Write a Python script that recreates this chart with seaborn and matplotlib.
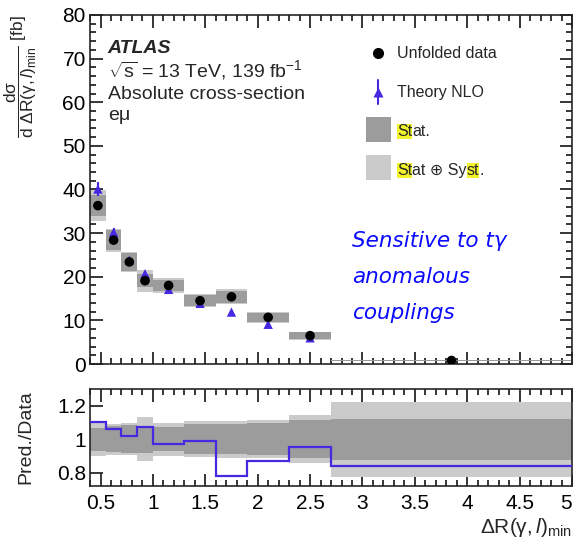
import numpy as np
import pandas as pd
import matplotlib
matplotlib.use("Agg")
import matplotlib.pyplot as plt
import seaborn as sns
from matplotlib.patches import Rectangle
from matplotlib.ticker import MultipleLocator

# ---------------- data ----------------
bin_edges = [0.4, 0.55, 0.7, 0.85, 1.0, 1.3, 1.6, 1.9, 2.3, 2.7, 5.0]
data_xsec = [36.3, 28.4, 23.4, 19.1, 18.0, 14.5, 15.4, 10.7, 6.5, 0.8]
theory_xsec = [40.1, 30.2, 23.8, 20.7, 17.1, 13.9, 11.9, 9.1, 6.0, 0.7]
theory_err = [1.6, 1.0, 0.6, 0.6, 0.4, 0.3, 0.3, 0.2, 0.15, 0.02]
stat_rel = [0.068, 0.078, 0.085, 0.080, 0.073, 0.088, 0.090, 0.094, 0.113, 0.122]
total_rel = [0.098, 0.092, 0.095, 0.133, 0.098, 0.106, 0.110, 0.115, 0.144, 0.225]
ratio_pred = [1.103, 1.060, 1.016, 1.071, 0.968, 0.990, 0.778, 0.869, 0.952, 0.837]

xtick_labels = ["0.5", "1", "1.5", "2", "2.5", "3", "3.5", "4", "4.5", "5"]
legend_labels = ["Unfolded data", "Theory NLO"]
atlas_lines = ["ATLAS", r"$\sqrt{\mathrm{s}}$ = 13 TeV, 139 fb$^{\mathregular{-1}}$",
               "Absolute cross-section", "e\u03bc"]
note_lines = ["Sensitive to t\u03b3", "anomalous", "couplings"]

# ---------------- style ----------------
sns.set_theme(style="ticks")
plt.rcParams["font.family"] = ["Liberation Sans", "DejaVu Sans"]
plt.rcParams["mathtext.fontset"] = "custom"
plt.rcParams["mathtext.rm"] = "Liberation Sans"
plt.rcParams["mathtext.it"] = "Liberation Sans:italic"
plt.rcParams["mathtext.bf"] = "Liberation Sans:bold"
plt.rcParams["axes.linewidth"] = 1.2

DARK = "#9c9c9c"
LIGHT = "#cbcbcb"
BLUE = "#4628e0"
YELLOW = "#f3f32c"

edges = np.array(bin_edges)
lefts = edges[:-1]
widths = np.diff(edges)
centers = lefts + widths / 2
data = np.array(data_xsec)
stat = np.array(stat_rel)
tot = np.array(total_rel)

df = pd.DataFrame({"x": centers, "data": data, "theory": theory_xsec})

fig = plt.figure(figsize=(5.76, 5.45), dpi=100)
ax = fig.add_axes([0.1563, 0.3321, 0.8368, 0.6404])
ax2 = fig.add_axes([0.1563, 0.1083, 0.8368, 0.178])

# ---------------- top panel ----------------
ax.bar(lefts, 2 * data * tot, width=widths, bottom=data * (1 - tot),
       align="edge", color=LIGHT, linewidth=0, zorder=1)
ax.bar(lefts, 2 * data * stat, width=widths, bottom=data * (1 - stat),
       align="edge", color=DARK, linewidth=0, zorder=2)
ax.errorbar(centers, theory_xsec, yerr=theory_err, fmt="none", ecolor=BLUE,
            elinewidth=1.5, zorder=3)
sns.scatterplot(data=df, x="x", y="theory", marker="^", color=BLUE, s=45,
                edgecolor="none", ax=ax, zorder=4)
sns.scatterplot(data=df, x="x", y="data", marker="o", color="black", s=48,
                edgecolor="none", ax=ax, zorder=5)

ax.set_xlim(0.4, 5.0)
ax.set_ylim(0, 80)
ax.set_xlabel("")
ax.set_ylabel(r"$\dfrac{\mathrm{d\sigma}}{\mathrm{d\ \Delta R(γ,}\mathit{l}\mathrm{)_{min}}}$ [fb]",
              fontsize=12.5, loc="top")
ax.yaxis.set_label_coords(-0.105, 1.0)
ax.yaxis.set_major_locator(MultipleLocator(10))
ax.yaxis.set_minor_locator(MultipleLocator(2))
ax.xaxis.set_major_locator(MultipleLocator(0.5))
ax.xaxis.set_minor_locator(MultipleLocator(0.1))
ax.tick_params(which="both", direction="in", top=True, right=True, labelbottom=False,
               width=1.1, colors="black")
ax.tick_params(which="major", length=9, labelsize=15, pad=3)
ax.tick_params(which="minor", length=4.5)

# ATLAS block
ax.text(0.037, 0.905, atlas_lines[0], transform=ax.transAxes, fontsize=14,
        fontweight="bold", fontstyle="italic", va="center", ha="left")
for txt, yy in zip(atlas_lines[1:], [0.842, 0.771, 0.713]):
    ax.text(0.037, yy, txt, transform=ax.transAxes, fontsize=14, va="center", ha="left")

# manual legend
ax.plot([0.598], [0.891], "o", color="black", ms=7, transform=ax.transAxes, clip_on=False)
ax.plot([0.598, 0.598], [0.745, 0.813], color=BLUE, lw=1.5, transform=ax.transAxes)
ax.plot([0.598], [0.779], "^", color=BLUE, ms=7, mec="none", transform=ax.transAxes)
ax.add_patch(Rectangle((0.573, 0.636), 0.051, 0.0716, transform=ax.transAxes,
                       color=DARK, lw=0))
ax.add_patch(Rectangle((0.573, 0.527), 0.051, 0.0716, transform=ax.transAxes,
                       color=LIGHT, lw=0))
LFS = 11.5
ax.text(0.637, 0.891, legend_labels[0], transform=ax.transAxes, fontsize=LFS, va="center")
ax.text(0.637, 0.779, legend_labels[1], transform=ax.transAxes, fontsize=LFS, va="center")


def pieces_text(y, pieces):
    prev = None
    for txt, hl in pieces:
        kw = dict(fontsize=LFS, ha="left", va="bottom",
                  family=["Liberation Sans", "DejaVu Sans"])
        if hl:
            kw["bbox"] = dict(boxstyle="square,pad=0.0", fc=YELLOW, ec="none")
        if prev is None:
            t = ax.text(0.637, y, txt, transform=ax.transAxes, **kw)
        else:
            t = ax.annotate(txt, xy=(1, 0), xycoords=prev, **kw)
        prev = t


pieces_text(0.645, [("St", True), ("at.", False)])
pieces_text(0.533, [("St", True), ("at \u2295 Sy", False), ("st", True), (".", False)])

# blue note
for txt, yy in zip(note_lines, [0.336, 0.233, 0.129]):
    ax.text(0.544, yy, txt, transform=ax.transAxes, fontsize=15.5, color="#0a0aff",
            fontstyle="oblique", family="DejaVu Sans", va="baseline", ha="left")

# ---------------- ratio panel ----------------
ax2.bar(lefts, 2 * tot, width=widths, bottom=1 - tot, align="edge",
        color=LIGHT, linewidth=0, zorder=1)
ax2.bar(lefts, 2 * stat, width=widths, bottom=1 - stat, align="edge",
        color=DARK, linewidth=0, zorder=2)
ax2.stairs(ratio_pred, edges, color=BLUE, linewidth=1.6, zorder=3, baseline=None)

ax2.set_xlim(0.4, 5.0)
ax2.set_ylim(0.72, 1.3)
ax2.set_yticks([0.8, 1.0, 1.2])
ax2.set_yticklabels(["0.8", "1", "1.2"])
ax2.xaxis.set_minor_locator(MultipleLocator(0.1))
ax2.set_xticks(np.arange(0.5, 5.01, 0.5))
ax2.set_xticklabels(xtick_labels)
ax2.get_xticklabels()[-1].set_horizontalalignment("right")
ax2.tick_params(which="both", direction="in", top=True, right=True, width=1.1,
                colors="black")
ax2.tick_params(axis="y", which="minor", left=False, right=False)
ax2.tick_params(which="major", length=9, labelsize=15, pad=3)
ax2.tick_params(axis="x", which="major", pad=6)
ax2.tick_params(which="minor", length=4.5)
ax2.set_ylabel("Pred./Data", fontsize=14)
ax2.yaxis.set_label_coords(-0.115, 0.5)
ax2.set_xlabel(r"$\mathrm{ΔR(γ,}\mathit{l}\mathrm{)_{min}}$", fontsize=15,
               loc="right", labelpad=2)

fig.savefig("out.png", dpi=100)
